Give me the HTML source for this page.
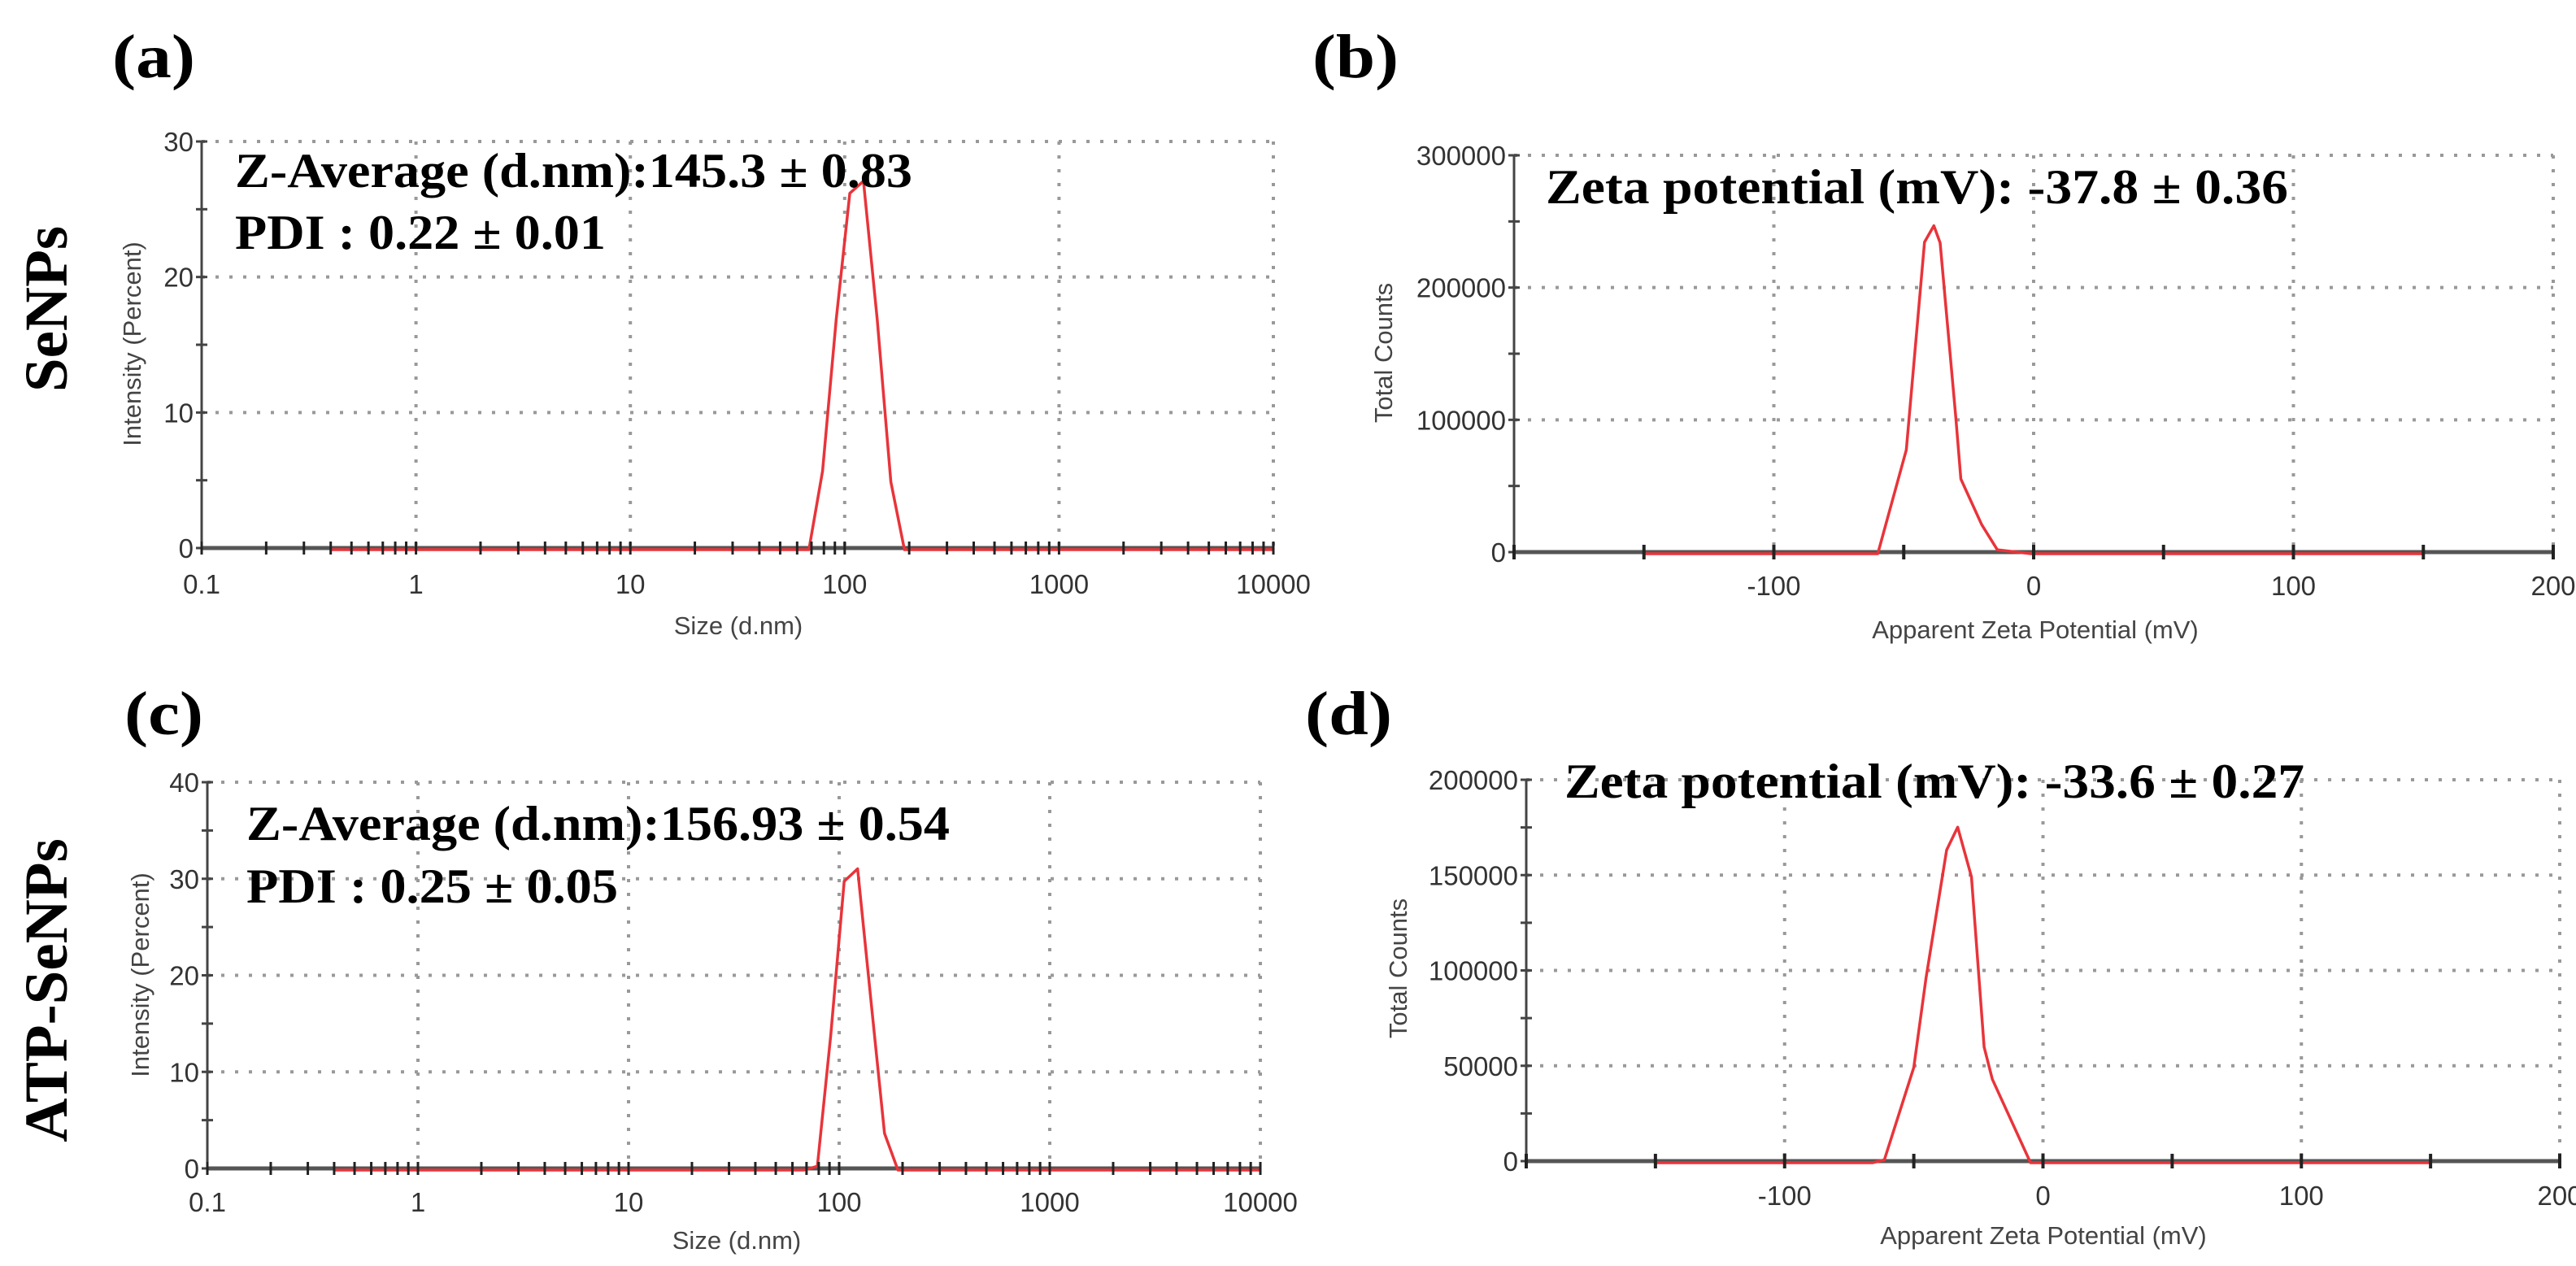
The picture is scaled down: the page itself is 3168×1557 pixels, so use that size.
<!DOCTYPE html>
<html><head><meta charset="utf-8"><style>
html,body{margin:0;padding:0;background:#fff;}
svg{display:block;}
.tk{font-family:"Liberation Sans",Arial,sans-serif;font-size:33px;fill:#333;}
.at{font-family:"Liberation Sans",Arial,sans-serif;font-size:31px;fill:#444;}
.an{font-family:"Liberation Serif","Times New Roman",serif;font-weight:bold;font-size:60px;fill:#000;}
.pl{font-family:"Liberation Serif","Times New Roman",serif;font-weight:bold;font-size:76px;fill:#000;}
.rw{font-family:"Liberation Serif","Times New Roman",serif;font-weight:bold;font-size:75px;fill:#000;}
</style></head><body>
<svg id="fig" width="3168" height="1557" viewBox="0 0 3168 1557" xmlns="http://www.w3.org/2000/svg">
<text class="pl" x="138" y="95" textLength="102" lengthAdjust="spacingAndGlyphs">(a)</text>
<text class="pl" x="1614" y="95" textLength="106" lengthAdjust="spacingAndGlyphs">(b)</text>
<text class="pl" x="153" y="903" textLength="97" lengthAdjust="spacingAndGlyphs">(c)</text>
<text class="pl" x="1605" y="903" textLength="107" lengthAdjust="spacingAndGlyphs">(d)</text>
<text class="rw" transform="translate(82,380) rotate(-90)" text-anchor="middle">SeNPs</text>
<text class="rw" transform="translate(82,1218) rotate(-90)" text-anchor="middle">ATP-SeNPs</text>
</svg>
<script>
// Panel a data
const aSize = [0.4, 68.06, 78.82, 91.28, 105.7, 122.4, 141.8, 164.2, 190.1, 10000];
const aInt = [0, 0, 5.8, 17, 26.3, 27.2, 17, 5, 0, 0];
const aXTicks = ["0.1", "1", "10", "100", "1000", "10000"];
const aYTicks = ["0", "10", "20", "30"];
// Panel c data
const cSize = [0.4, 68.06, 78.82, 91.28, 105.7, 122.4, 141.8, 164.2, 190.1, 10000];
const cInt = [0, 0, 0.4, 14, 29.9, 31.2, 17.4, 3.8, 0, 0];
const cXTicks = ["0.1", "1", "10", "100", "1000", "10000"];
const cYTicks = ["0", "10", "20", "30", "40"];
// Panel b data
const bZeta = [-150, -60, -49, -42, -38.4, -36, -30, -28, -20, -14, -1, 150];
const bCounts = [0, 0, 78500, 235600, 248000, 235000, 103600, 56500, 22000, 3000, 0, 0];
const bXTicks = ["-100", "0", "100", "200"];
const bYTicks = ["0", "100000", "200000", "300000"];
// Panel d data
const dZeta = [-150, -66, -61.4, -50, -45.3, -37.3, -33, -27.7, -22.8, -19.6, -4.8, 150];
const dCounts = [0, 0, 1500, 50000, 96700, 164000, 176000, 150000, 60700, 43800, 0, 0];
const dXTicks = ["-100", "0", "100", "200"];
const dYTicks = ["0", "50000", "100000", "150000", "200000"];

const NS = "http://www.w3.org/2000/svg";
const svg = document.getElementById("fig");
function mk(tag, attrs, parent) {
  const e = document.createElementNS(NS, tag);
  for (const k in attrs) e.setAttribute(k, attrs[k]);
  (parent || svg).appendChild(e);
  return e;
}

function panel(o) {
  const g = mk("g", {});
  
  
  const L = o.L, R = o.R, T = o.T, B = o.B;
  const sx = o.log
    ? v => L + (Math.log10(v) - Math.log10(o.xmin)) / (Math.log10(o.xmax) - Math.log10(o.xmin)) * (R - L)
    : v => L + (v - o.xmin) / (o.xmax - o.xmin) * (R - L);
  const sy = v => B - (v - o.ymin) / (o.ymax - o.ymin) * (B - T);
  // grid
  o.xTicks.forEach(t => {
    const v = parseFloat(t);
    const x = sx(v);
    if (Math.abs(x - L) > 2) {
      const gl = mk("line", {x1: x, x2: x, y1: T, y2: B, stroke: "#999", "stroke-width": 4, "stroke-dasharray": "4 13"}, g);
      
      
    }
    const tl = mk("text", {x: x, y: o.xLabY, "text-anchor": "middle", class: "tk"}, g);
    
    
    tl.textContent = t;
  });
  o.yTicks.forEach(t => {
    const v = parseFloat(t);
    const y = sy(v);
    if (v !== o.ymin) {
      const gl = mk("line", {x1: L, x2: R, y1: y, y2: y, stroke: "#999", "stroke-width": 4, "stroke-dasharray": "4 13"}, g);
      
      
    }
    const tl = mk("text", {x: L - 10, y: y + 12, "text-anchor": "end", class: "tk"}, g);
    
    
    tl.textContent = t;
  });
  // y axis
  const ya = mk("line", {x1: L, x2: L, y1: T, y2: B, stroke: "#444", "stroke-width": 3}, g);
  
  
  // y minor ticks
  const ys = o.yTicks.map(parseFloat);
  const step = ys[1] - ys[0];
  for (let v = o.ymin; v <= o.ymax + 1e-9; v += step / 2) {
    const tk = mk("line", {x1: L - 7, x2: L + 7, y1: sy(v), y2: sy(v), stroke: "#444", "stroke-width": 3}, g);
    
    
  }
  // x axis
  const xa = mk("line", {x1: L, x2: R, y1: B, y2: B, stroke: "#555", "stroke-width": 5}, g);
  
  
  // data
  const pts = o.xs.map((v, i) => sx(v).toFixed(1) + "," + (sy(o.ys[i]) + 2).toFixed(1)).join(" ");
  const ln = mk("polyline", {points: pts, fill: "none", stroke: "#e8343a", "stroke-width": 3.5, "stroke-linejoin": "round"}, g);
  
  
  // x ticks
  if (o.log) {
    for (let d = Math.log10(o.xmin); d < Math.log10(o.xmax); d++) {
      for (let m = 1; m <= 9; m++) {
        const x = sx(Math.pow(10, d) * m);
        const tk = mk("line", {x1: x, x2: x, y1: B - 8, y2: B + 8, stroke: "#222", "stroke-width": 3}, g);
        
        
      }
    }
    const x = sx(o.xmax);
    const tk = mk("line", {x1: x, x2: x, y1: B - 8, y2: B + 8, stroke: "#222", "stroke-width": 3}, g);
    
    
  } else {
    for (let v = o.xmin; v <= o.xmax; v += 50) {
      const x = sx(v);
      const tk = mk("line", {x1: x, x2: x, y1: B - 9, y2: B + 9, stroke: "#222", "stroke-width": 4}, g);
      
      
    }
  }
  // titles
  const xt = mk("text", {x: o.xTitleX, y: o.xTitleY, "text-anchor": "middle", class: "at"}, g);
  
  
  xt.textContent = o.xTitle;
  const yt = mk("text", {transform: "translate(" + o.yTitleX + "," + o.yTitleY + ") rotate(-90)", "text-anchor": "middle", class: "at"}, g);
  
  
  yt.textContent = o.yTitle;
  o.notes.forEach(n => {
    const t = mk("text", {x: n[0], y: n[1], class: "an", textLength: n[2], lengthAdjust: "spacingAndGlyphs"}, g);
    
    
    t.textContent = n[3];
  });
}

panel({name: "panel-a-size-distribution", L: 248, R: 1566, T: 174, B: 674, log: true, xmin: 0.1, xmax: 10000, ymin: 0, ymax: 30,
  xs: aSize, ys: aInt, xTicks: aXTicks, yTicks: aYTicks, xLabY: 730,
  xTitle: "Size (d.nm)", xTitleX: 908, xTitleY: 780, yTitle: "Intensity (Percent)", yTitleX: 173, yTitleY: 423,
  notes: [[289, 230, 833, "Z-Average (d.nm):145.3 ± 0.83"], [289, 306, 456, "PDI : 0.22 ± 0.01"]]});
panel({name: "panel-b-zeta-potential", L: 1862, R: 3140, T: 191, B: 679, log: false, xmin: -200, xmax: 200, ymin: 0, ymax: 300000,
  xs: bZeta, ys: bCounts, xTicks: bXTicks, yTicks: bYTicks, xLabY: 732,
  xTitle: "Apparent Zeta Potential (mV)", xTitleX: 2503, xTitleY: 785, yTitle: "Total Counts", yTitleX: 1712, yTitleY: 434,
  notes: [[1901, 250, 913, "Zeta potential (mV): -37.8 ± 0.36"]]});
panel({name: "panel-c-size-distribution", L: 255, R: 1550, T: 962, B: 1437, log: true, xmin: 0.1, xmax: 10000, ymin: 0, ymax: 40,
  xs: cSize, ys: cInt, xTicks: cXTicks, yTicks: cYTicks, xLabY: 1490,
  xTitle: "Size (d.nm)", xTitleX: 906, xTitleY: 1536, yTitle: "Intensity (Percent)", yTitleX: 183, yTitleY: 1199,
  notes: [[303, 1033, 865, "Z-Average (d.nm):156.93 ± 0.54"], [303, 1110, 457, "PDI : 0.25 ± 0.05"]]});
panel({name: "panel-d-zeta-potential", L: 1877, R: 3148, T: 959, B: 1428, log: false, xmin: -200, xmax: 200, ymin: 0, ymax: 200000,
  xs: dZeta, ys: dCounts, xTicks: dXTicks, yTicks: dYTicks, xLabY: 1482,
  xTitle: "Apparent Zeta Potential (mV)", xTitleX: 2513, xTitleY: 1530, yTitle: "Total Counts", yTitleX: 1730, yTitleY: 1191,
  notes: [[1924, 981, 910, "Zeta potential (mV): -33.6 ± 0.27"]]});
</script>
</body></html>
